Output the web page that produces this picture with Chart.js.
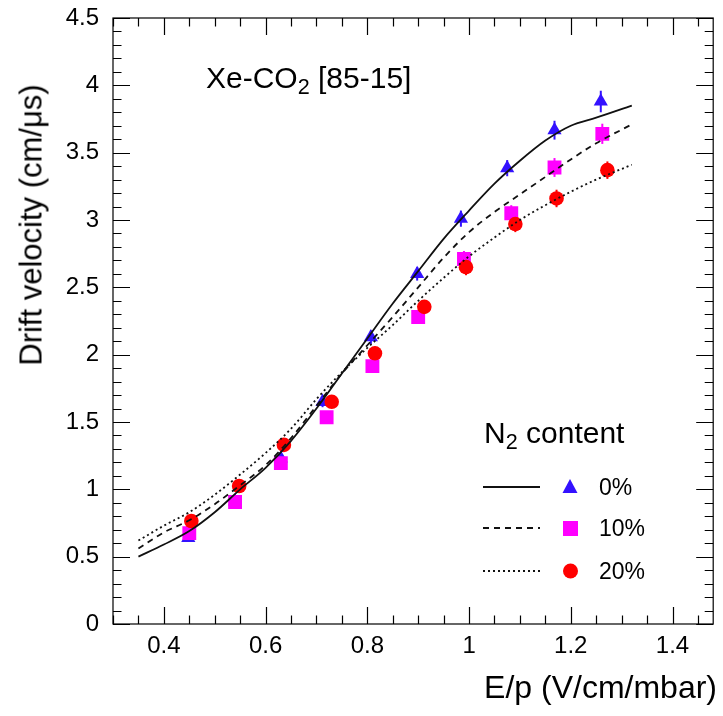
<!DOCTYPE html>
<html><head><meta charset="utf-8">
<script src="https://cdn.jsdelivr.net/npm/chart.js@4.4.1/dist/chart.umd.min.js"></script>
<style>
html,body{margin:0;padding:0;background:#fff;}
#wrap{position:relative;width:723px;height:716px;overflow:hidden;font-family:"Liberation Sans",Arial,Helvetica,sans-serif;}
canvas{position:absolute;left:0;top:0;}
.t{position:absolute;color:#000;white-space:nowrap;line-height:1;}
.t sub{font-size:0.72em;vertical-align:-0.3em;line-height:0;}
</style></head><body>
<div id="wrap">
<canvas id="c" width="723" height="716"></canvas>
<div class="t" id="ytitle" style="font-size:31px;left:31px;top:225px;transform:translate(-50%,-50%) rotate(-90deg);">Drift velocity (cm/μs)</div>
<div class="t" id="xtitle" style="font-size:32px;right:6px;top:671px;">E/p (V/cm/mbar)</div>
<div class="t" style="font-size:30px;left:206px;top:63px;">Xe-CO<sub>2</sub> [85-15]</div>
<div class="t" style="font-size:30px;left:484px;top:418px;">N<sub>2</sub> content</div>
<div class="t" style="font-size:23px;left:599px;top:476px;">0%</div>
<div class="t" style="font-size:23px;left:599px;top:517px;">10%</div>
<div class="t" style="font-size:23px;left:599px;top:560px;">20%</div>
</div>
<script>
// ---- data ----
const curveX = [0.35,0.40,0.45,0.50,0.55,0.60,0.65,0.70,0.75,0.80,0.85,0.90,0.95,1.00,1.05,1.10,1.15,1.20,1.25,1.32];
const fit0  = [0.50,0.59,0.69,0.83,1.00,1.16,1.36,1.60,1.86,2.12,2.38,2.62,2.86,3.07,3.27,3.44,3.59,3.70,3.76,3.85];
const fit10 = [0.56,0.68,0.77,0.89,1.03,1.18,1.38,1.62,1.86,2.07,2.28,2.50,2.72,2.91,3.06,3.19,3.32,3.45,3.57,3.71];
const fit20 = [0.62,0.73,0.83,0.96,1.11,1.27,1.45,1.67,1.87,2.05,2.22,2.40,2.57,2.73,2.87,3.00,3.11,3.21,3.30,3.41];

const ep0 = [0.448,0.540,0.630,0.712,0.807,0.898,0.984,1.075,1.168,1.259];
const v0  = [0.64,0.91,1.23,1.65,2.13,2.60,3.01,3.385,3.667,3.88];
const e0  = [0.03,0.03,0.04,0.04,0.05,0.05,0.06,0.06,0.07,0.08];

const ep10 = [0.450,0.540,0.630,0.720,0.810,0.900,0.990,1.083,1.168,1.262];
const v10  = [0.675,0.906,1.195,1.535,1.915,2.28,2.71,3.05,3.39,3.64];
const e10  = [0.03,0.03,0.04,0.04,0.05,0.05,0.06,0.06,0.07,0.075];

const ep20 = [0.454,0.548,0.636,0.730,0.815,0.912,0.994,1.091,1.172,1.272];
const v20  = [0.765,1.025,1.33,1.65,2.01,2.355,2.65,2.97,3.16,3.37];
const e20  = [0.03,0.03,0.04,0.04,0.05,0.05,0.06,0.06,0.065,0.065];

const xTickVals = [0.4,0.6,0.8,1.0,1.2,1.4];
const yTickVals = [0,0.5,1,1.5,2,2.5,3,3.5,4,4.5];

// ---- build ----
const pts = (xs, ys) => xs.map((x,i)=>({x, y:ys[i]}));
const BLUE = '#3311ff', MAG = '#ff00ff', RED = '#ff0000';
const FONT = '"Liberation Sans", Arial, Helvetica, sans-serif';

const frameTicks = {
  id:'frameTicks',
  afterDraw(chart){
    const {ctx, chartArea:a, scales:{x,y}} = chart;
    ctx.save();
    ctx.strokeStyle='#000'; ctx.lineWidth=1.2;
    ctx.strokeRect(a.left, a.top, a.right-a.left, a.bottom-a.top);
    ctx.beginPath();
    for(let k=0;k<=40;k++){
      const v = Math.round((0.30 + k*0.05)*100)/100;
      if(v > x.max + 1e-9) break;
      const major = Math.abs(v/0.2 - Math.round(v/0.2)) < 1e-6;
      const L = major ? 17 : 8.5;
      const px = Math.round(x.getPixelForValue(v))+0.5;
      ctx.moveTo(px,a.bottom); ctx.lineTo(px,a.bottom-L);
      ctx.moveTo(px,a.top); ctx.lineTo(px,a.top+L);
    }
    for(let k=0;k<=45;k++){
      const v = k*0.1;
      const major = k%5===0;
      const L = major ? 17 : 8.5;
      const py = Math.round(y.getPixelForValue(v))+0.5;
      ctx.moveTo(a.left,py); ctx.lineTo(a.left+L,py);
      ctx.moveTo(a.right,py); ctx.lineTo(a.right-L,py);
    }
    ctx.stroke();
    ctx.restore();
  }
};

const errBars = {
  id:'errBars',
  beforeDatasetsDraw(chart){
    const {ctx, scales:{x,y}} = chart;
    chart.data.datasets.forEach(ds=>{
      if(!ds.errors) return;
      ctx.save(); ctx.strokeStyle=ds.backgroundColor; ctx.lineWidth=2;
      ds.data.forEach((p,i)=>{
        const px=x.getPixelForValue(p.x);
        ctx.beginPath();
        ctx.moveTo(px,y.getPixelForValue(p.y-ds.errors[i]));
        ctx.lineTo(px,y.getPixelForValue(p.y+ds.errors[i]));
        ctx.stroke();
      });
      ctx.restore();
    });
  }
};

const legendMarks = {
  id:'legendMarks',
  afterDraw(chart){
    const ctx = chart.ctx;
    ctx.save();
    ctx.strokeStyle='#111'; ctx.lineWidth=1.8;
    const rows = [[487,[]],[528,[6,5]],[571,[2,3]]];
    rows.forEach(([yy,dash])=>{
      ctx.setLineDash(dash); ctx.beginPath(); ctx.moveTo(483,yy); ctx.lineTo(540,yy); ctx.stroke();
    });
    ctx.setLineDash([]);
    ctx.fillStyle=BLUE; ctx.beginPath();
    ctx.moveTo(570,479); ctx.lineTo(577.5,493); ctx.lineTo(562.5,493); ctx.closePath(); ctx.fill();
    ctx.fillStyle=MAG; ctx.fillRect(563,521,15,15);
    ctx.fillStyle=RED; ctx.beginPath(); ctx.arc(570.5,571,7.5,0,Math.PI*2); ctx.fill();
    ctx.restore();
  }
};

const lineDs = (data, dash) => ({
  type:'scatter', data, showLine:true, pointRadius:0, borderColor:'#111', borderWidth:1.8,
  borderDash:dash, cubicInterpolationMode:'monotone', fill:false, order:0
});
const markDs = (data, style, color, r, err, order) => ({
  type:'scatter', data, pointStyle:style, pointRadius:r, pointHoverRadius:r,
  backgroundColor:color, borderColor:color, borderWidth:0, errors:err, order
});

new Chart(document.getElementById('c'), {
  type:'scatter',
  data:{ datasets:[
    lineDs(pts(curveX,fit0), []),
    lineDs(pts(curveX,fit10), [6,5]),
    lineDs(pts(curveX,fit20), [2,3]),
    markDs(pts(ep20,v20), 'circle', RED, 7.3, e20, 1),
    markDs(pts(ep10,v10), 'rect', MAG, 9.8, e10, 2),
    markDs(pts(ep0,v0), 'triangle', BLUE, 8.2, e0, 3)
  ]},
  options:{
    responsive:false, animation:false,
    layout:{padding:{top:18,right:7,left:0,bottom:0}},
    plugins:{legend:{display:false}, tooltip:{enabled:false}},
    scales:{
      x:{ type:'linear', min:0.3, max:1.48,
        afterBuildTicks:s=>{ s.ticks = xTickVals.map(v=>({value:v})); },
        afterFit:s=>{ s.height = 92; s.paddingLeft = 0; s.paddingRight = 0; },
        grid:{display:false, drawTicks:false}, border:{display:false},
        ticks:{ autoSkip:false, maxRotation:0, padding:8, color:'#000',
          font:{family:FONT,size:24}, callback:v=>String(Math.round(v*10)/10) } },
      y:{ type:'linear', min:0, max:4.5,
        afterBuildTicks:s=>{ s.ticks = yTickVals.map(v=>({value:v})); },
        afterFit:s=>{ s.width = 113; s.paddingTop = 0; s.paddingBottom = 0; },
        grid:{display:false, drawTicks:false}, border:{display:false},
        ticks:{ autoSkip:false, padding:14, color:'#000',
          font:{family:FONT,size:24}, callback:v=>String(v) } }
    }
  },
  plugins:[frameTicks, errBars, legendMarks]
});
</script>
</body></html>
